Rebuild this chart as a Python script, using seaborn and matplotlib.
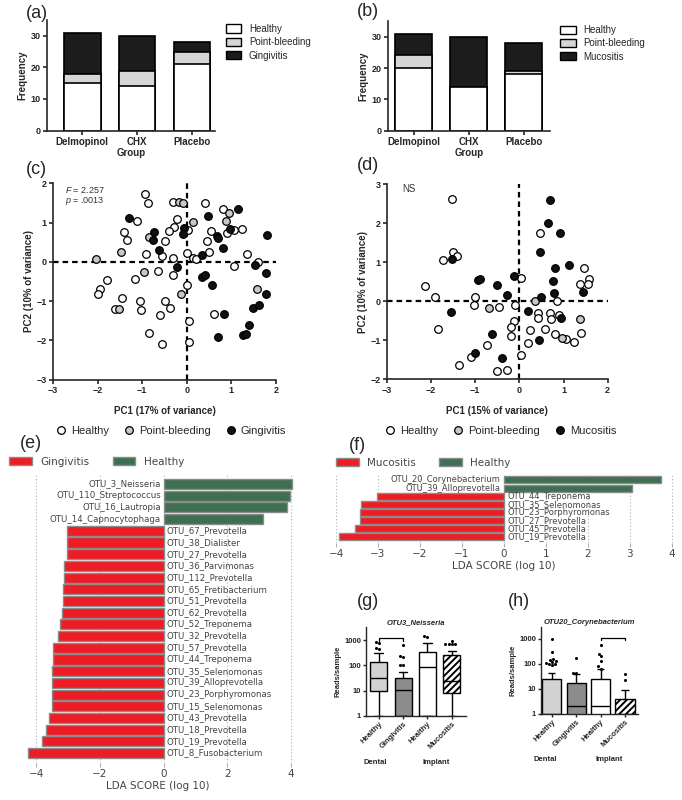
import matplotlib
matplotlib.use("Agg")
import matplotlib.pyplot as plt
import matplotlib.transforms as mtransforms
from matplotlib.patches import Patch
from matplotlib.lines import Line2D
import numpy as np
import pandas as pd
import seaborn as sns

sns.set_style("ticks")
plt.rcParams["font.family"] = ["Liberation Sans", "DejaVu Sans"]
plt.rcParams["mathtext.fontset"] = "custom"
plt.rcParams["mathtext.it"] = "Liberation Sans:italic"
plt.rcParams["mathtext.rm"] = "Liberation Sans"
plt.rcParams["hatch.linewidth"] = 1.4

# ---- (a) / (b) stacked frequencies ----
groups = ["Delmopinol", "CHX", "Placebo"]
a_healthy = [15, 14, 21]
a_bleeding = [3, 5, 4]
a_gingivitis = [13, 11, 3]
b_healthy = [20, 14, 18]
b_bleeding = [4, 0, 1]
b_mucositis = [7, 16, 9]

# ---- (c) PCA dental ----
c_healthy_x = [-0.94, -0.86, -0.32, 0.41, 0.81, -0.21, -1.11, -1.41, -1.34, -0.28, -0.39, 0.02,
               0.55, 0.90, 1.05, 1.24, -0.49, 0.45, 0.50, -0.92, -0.56, 0.01, -0.31, 0.13, 0.21,
               1.35, 1.05, 1.59, -0.64, -0.32, -1.16, -1.78, -1.95, -1.98, -1.46, -1.05, -1.03,
               -0.49, -0.37, -1.61, -0.60, 0.01, 0.06, 0.06, -0.84, -0.55, 0.62]
c_healthy_y = [1.74, 1.51, 1.53, 1.49, 1.34, 1.10, 1.03, 0.76, 0.56, 0.89, 0.79, 0.81,
               0.79, 0.74, 0.82, 0.83, 0.52, 0.54, 0.26, 0.21, 0.14, 0.23, 0.10, 0.10, 0.06,
               0.20, -0.10, 0.00, -0.23, -0.33, -0.43, -0.47, -0.70, -0.81, -0.91, -1.00, -1.23,
               -1.01, -1.17, -1.19, -1.36, -0.58, -1.52, -2.05, -1.81, -2.09, -1.34]
c_bleed_x = [-2.04, -1.47, -0.95, -0.84, -0.17, -0.09, 0.13, 0.94, 0.88, -0.13, -1.52, 1.57]
c_bleed_y = [0.06, 0.25, -0.26, 0.64, 1.52, 1.49, 1.02, 1.25, 1.05, -0.83, -1.19, -0.69]
c_dis_x = [-1.30, -0.73, -0.76, -0.62, -0.07, -0.09, -0.22, 0.47, 1.14, 0.67, 0.71, 0.96, 0.82,
           0.34, 0.34, 0.40, 0.56, 1.80, 1.52, 1.78, 1.78, 1.48, 1.63, 1.39, 1.27, 1.32, 0.84, 0.71]
c_dis_y = [1.11, 0.76, 0.56, 0.30, 0.85, 0.70, -0.12, 1.17, 1.35, 0.66, 0.60, 0.84, 0.35,
           0.17, -0.38, -0.33, -0.58, 0.69, -0.07, -0.29, -0.81, -1.18, -1.11, -1.62, -1.86, -1.83,
           -1.33, -1.91]

# ---- (d) PCA implant ----
d_healthy_x = [-1.52, -1.50, -1.42, -1.74, -2.14, -1.91, -1.00, -1.03, -1.84, -0.46, -0.10, 0.03,
               -0.12, -0.20, -0.19, -0.74, -1.09, -1.37, -0.51, -0.29, 0.03, 0.20, 0.23, 0.41,
               0.41, 0.69, 0.72, 0.90, 0.86, 0.57, 0.80, 1.05, 1.24, 1.40, 0.47, 1.47, 1.37,
               1.58, 1.55]
d_healthy_y = [2.63, 1.26, 1.15, 1.07, 0.38, 0.12, 0.12, -0.09, -0.72, -0.15, -0.09, 0.59,
               -0.50, -0.65, -0.88, -1.12, -1.44, -1.63, -1.79, -1.76, -1.37, -1.07, -0.74, -0.29,
               -0.42, -0.29, -0.45, -0.34, 0.01, -0.70, -0.85, -0.96, -1.05, -0.81, 1.74, 0.85, 0.44,
               0.56, 0.44]
d_bleed_x = [-0.69, 0.35, 0.97, 1.38]
d_bleed_y = [-0.16, 0.00, -0.94, -0.45]
d_dis_x = [0.69, 0.65, 0.91, 0.47, 0.80, 1.13, 0.77, 0.78, 1.44, 0.50, 0.20, 0.95, 0.45, -0.12,
           -0.29, -0.50, -0.93, -0.89, -1.52, -1.56, -0.63, -1.01, -0.40]
d_dis_y = [2.60, 2.00, 1.74, 1.27, 0.86, 0.93, 0.53, 0.20, 0.25, 0.10, -0.25, -0.44, -0.99, 0.66,
           0.15, 0.42, 0.55, 0.56, 1.09, -0.28, -0.84, -1.33, -1.46]

# ---- (e) LEfSe dental ----
e_names = ["OTU_3_Neisseria", "OTU_110_Streptococcus", "OTU_16_Lautropia", "OTU_14_Capnocytophaga",
           "OTU_67_Prevotella", "OTU_38_Dialister", "OTU_27_Prevotella", "OTU_36_Parvimonas",
           "OTU_112_Prevotella", "OTU_65_Fretibacterium", "OTU_51_Prevotella", "OTU_62_Prevotella",
           "OTU_52_Treponema", "OTU_32_Prevotella", "OTU_57_Prevotella", "OTU_44_Treponema",
           "OTU_35_Selenomonas", "OTU_39_Alloprevotella", "OTU_23_Porphyromonas",
           "OTU_15_Selenomonas", "OTU_43_Prevotella", "OTU_18_Prevotella", "OTU_19_Prevotella",
           "OTU_8_Fusobacterium"]
e_scores = [4.04, 3.98, 3.87, 3.14, -3.02, -3.02, -3.02, -3.12, -3.14, -3.16, -3.17, -3.19,
            -3.24, -3.33, -3.48, -3.48, -3.50, -3.51, -3.51, -3.51, -3.60, -3.71, -3.81, -4.25]

# ---- (f) LEfSe implant ----
f_names = ["OTU_20_Corynebacterium", "OTU_39_Alloprevotella", "OTU_44_Treponema",
           "OTU_35_Selenomonas", "OTU_23_Porphyromonas", "OTU_27_Prevotella",
           "OTU_45_Prevotella", "OTU_19_Prevotella"]
f_scores = [3.75, 3.05, -3.03, -3.41, -3.42, -3.44, -3.54, -3.94]

# ---- (g) OTU3 Neisseria box plot ----
g_cats = ["Healthy", "Gingivitis", "Healthy", "Mucositis"]
g_med = [33, 11, 83, 25]
g_q1 = [10, 1, 1, 8.3]
g_q3 = [140, 33, 350, 255]
g_lo = [1, 1, 1, 1]
g_hi = [316, 55, 790, 380]
g_fliers = [[820, 780, 450, 500], [630, 230, 210, 100, 100], [1300, 1400], [950, 700, 700, 700, 720]]

# ---- (h) OTU20 Corynebacterium bar plot ----
h_cats = ["Healthy", "Gingivitis", "Healthy", "Mucositis"]
h_mean = [24, 18, 24, 4.1]
h_upper = [42, 40, 61, 9]
h_median = [1, 2, 2, 1]
h_points = [[1000, 300, 150, 130, 110, 100, 160, 90, 120, 100],
            [170, 45, 45],
            [600, 260, 200, 130, 80, 65],
            [38, 22]]

W, H = 682, 800
fig = plt.figure(figsize=(W / 100, H / 100), dpi=100)


def px_axes(l, t, r, b):
    return fig.add_axes([l / W, 1 - b / H, (r - l) / W, (b - t) / H])


def panel_label(x, y, s):
    fig.text(x / W, 1 - y / H, s, fontsize=13, ha="left", va="center",
             family=["Liberation Sans", "DejaVu Sans"])


def prism_axes(ax):
    sns.despine(ax=ax)
    for sp in ["left", "bottom"]:
        ax.spines[sp].set_linewidth(1.2)
    ax.tick_params(width=1.2, length=3, labelsize=6.5, pad=1.5)
    for t in ax.get_xticklabels() + ax.get_yticklabels():
        t.set_fontweight("bold")


def stacked(ax, h, p, d, dlabel):
    df = pd.DataFrame({"Group": groups, "h": h, "p": p, "d": d})
    df["hp"] = df["h"] + df["p"]
    df["hpd"] = df["hp"] + df["d"]
    for col, color in [("hpd", "#1c1c1c"), ("hp", "#d6d6d6"), ("h", "white")]:
        sns.barplot(data=df, x="Group", y=col, color=color, edgecolor="black", linewidth=1.2,
                    width=0.67, saturation=1, errorbar=None, ax=ax)
    ax.set_ylim(0, 35)
    ax.set_yticks([0, 10, 20, 30])
    ax.set_ylabel("Frequency", fontsize=7, fontweight="bold", labelpad=2)
    ax.set_xlabel("Group", fontsize=7, fontweight="bold", labelpad=1)
    prism_axes(ax)
    ax.tick_params(axis="x", labelsize=7)
    handles = [Patch(facecolor="white", edgecolor="black", lw=1),
               Patch(facecolor="#d6d6d6", edgecolor="black", lw=1),
               Patch(facecolor="#1c1c1c", edgecolor="black", lw=1)]
    ax.legend(handles, ["Healthy", "Point-bleeding", dlabel], loc="upper left",
              bbox_to_anchor=(1.04, 1.0), frameon=False, fontsize=7, handlelength=1.6,
              handleheight=0.9, labelspacing=0.35, borderaxespad=0)


ax_a = px_axes(47, 20, 215, 130.5)
stacked(ax_a, a_healthy, a_bleeding, a_gingivitis, "Gingivitis")
ax_a.set_xlim(-0.64, 2.42)

ax_b = px_axes(388, 21, 550, 130.7)
stacked(ax_b, b_healthy, b_bleeding, b_mucositis, "Mucositis")
ax_b.set_xlim(-0.47, 2.48)


def pca(ax, hx, hy, bx, by, dx, dy, ylim, xlabel):
    for xs, ys, fc in [(hx, hy, "white"), (bx, by, "#c8c8c8"), (dx, dy, "#111111")]:
        sns.scatterplot(x=xs, y=ys, color=fc, edgecolor="black", linewidth=0.9, s=30, ax=ax,
                        zorder=3)
    ax.axvline(0, color="black", lw=1.6, ls=(0, (2.5, 1.8)), zorder=1)
    ax.axhline(0, color="black", lw=1.6, ls=(0, (2.5, 1.8)), zorder=1)
    ax.set_xlim(-3, 2)
    ax.set_ylim(*ylim)
    ax.set_xticks(range(-3, 3))
    ax.set_yticks(range(ylim[0], ylim[1] + 1))
    ax.set_xlabel(xlabel, fontsize=7, fontweight="bold", labelpad=8)
    ax.set_ylabel("PC2 (10% of variance)", fontsize=7, fontweight="bold", labelpad=2)
    prism_axes(ax)


ax_c = px_axes(53, 183.3, 276, 379.6)
pca(ax_c, c_healthy_x, c_healthy_y, c_bleed_x, c_bleed_y, c_dis_x, c_dis_y, (-3, 2),
    "PC1 (17% of variance)")
ax_c.text(-2.72, 1.84, "$F$ = 2.257", fontsize=6.5, color="#333333", va="center")
ax_c.text(-2.72, 1.54, "$p$ = .0013", fontsize=6.5, color="#333333", va="center")

ax_d = px_axes(387, 184.3, 607.7, 379.3)
pca(ax_d, d_healthy_x, d_healthy_y, d_bleed_x, d_bleed_y, d_dis_x, d_dis_y, (-2, 3),
    "PC1 (15% of variance)")
ax_d.text(-2.65, 2.87, "NS", fontsize=7, color="#333333", va="center")


def pca_legend(cx, dlabel):
    hs = [Line2D([], [], marker="o", ls="", mfc=fc, mec="black", mew=0.9, ms=5.5)
          for fc in ["white", "#c8c8c8", "#111111"]]
    fig.legend(hs, ["Healthy", "Point-bleeding", dlabel], loc="center",
               bbox_to_anchor=(cx / W, 1 - 431 / H), ncol=3, frameon=False, fontsize=8,
               handletextpad=0.3, columnspacing=1.2, handlelength=1.2)


pca_legend(170, "Gingivitis")
pca_legend(500, "Mucositis")

RED = "#ee1c25"
GREEN = "#3e6f52"
LEF_FONT = ["DejaVu Sans"]


def lefse(ax, names, scores, fs, labels_fs, xlim, ylim, xticks):
    cls = ["Healthy" if s > 0 else "Disease" for s in scores]
    df = pd.DataFrame({"name": names, "score": scores, "cls": cls})
    sns.barplot(data=df, y="name", x="score", hue="cls", palette={"Healthy": GREEN, "Disease": RED},
                dodge=False, orient="h", width=0.86, edgecolor="#8c8c8c", linewidth=1,
                saturation=1, legend=False, ax=ax, zorder=3)
    for i, (n, s) in enumerate(zip(names, scores)):
        if s > 0:
            ax.text(-0.08, i, n, ha="right", va="center", fontsize=labels_fs, color="#444444",
                    family=LEF_FONT)
        else:
            ax.text(0.08, i, n, ha="left", va="center", fontsize=labels_fs, color="#444444",
                    family=LEF_FONT)
    ax.set_xlim(*xlim)
    ax.set_ylim(*ylim)
    ax.set_xticks(xticks)
    ax.set_yticks([])
    ax.set_ylabel("")
    ax.set_xlabel("LDA SCORE (log 10)", fontsize=fs, color="#444444", family=LEF_FONT, labelpad=2)
    for sp in ax.spines.values():
        sp.set_visible(False)
    ax.grid(axis="x", ls=(0, (1, 2)), color="#b0b0b0", lw=0.8, zorder=0)
    ax.tick_params(axis="x", length=3, color="#b0b0b0", labelsize=fs, labelcolor="#444444",
                   pad=1)
    for t in ax.get_xticklabels():
        t.set_family(LEF_FONT)


ax_e = px_axes(22, 473, 294, 763)
lefse(ax_e, e_names, e_scores, 7.5, 6.2, (-4.45, 4.1), (23.85, -0.94), [-4, -2, 0, 2, 4])
ax_e.legend([Patch(facecolor=RED, edgecolor="#8c8c8c"), Patch(facecolor=GREEN, edgecolor="#8c8c8c")],
            ["Gingivitis", "Healthy"], loc="lower left", bbox_to_anchor=(-0.07, 1.0), ncol=2,
            frameon=False, prop={"family": LEF_FONT, "size": 7.5}, labelcolor="#444444",
            handlelength=2.2, handleheight=0.8, columnspacing=2.2, borderaxespad=0.2)

ax_f = px_axes(334, 473, 673.8, 543)
lefse(ax_f, f_names, f_scores, 7.5, 6.0, (-4.05, 4.05), (7.78, -0.86), list(range(-4, 5)))
ax_f.legend([Patch(facecolor=RED, edgecolor="#8c8c8c"), Patch(facecolor=GREEN, edgecolor="#8c8c8c")],
            ["Mucositis", "Healthy"], loc="lower left", bbox_to_anchor=(-0.01, 1.0), ncol=2,
            frameon=False, prop={"family": LEF_FONT, "size": 7.5}, labelcolor="#444444",
            handlelength=2.2, handleheight=0.8, columnspacing=2.2, borderaxespad=0.1)


def small_axes(ax, cats, title, xlim, ylim, dental_x, implant_x):
    ax.set_xlim(*xlim)
    ax.set_ylim(*ylim)
    ax.set_xticks(range(4))
    ax.set_xticklabels(cats, rotation=45, ha="right", rotation_mode="anchor")
    ax.set_yticks([1, 10, 100, 1000])
    ax.set_yticklabels(["1", "10", "100", "1000"])
    ax.minorticks_off()
    ax.set_xlabel("")
    ax.set_ylabel("Reads/sample", fontsize=5.5, fontweight="bold", labelpad=2)
    ax.set_title(title, fontsize=5.5, fontweight="bold", style="italic", pad=2)
    sns.despine(ax=ax)
    for sp in ["left", "bottom"]:
        ax.spines[sp].set_linewidth(1.0)
    ax.tick_params(width=1.0, length=2.5, labelsize=5.5, pad=1)
    for t in ax.get_xticklabels() + ax.get_yticklabels():
        t.set_fontweight("bold")
    tr = mtransforms.blended_transform_factory(ax.transData, ax.transAxes)
    ax.text(dental_x, -0.52, "Dental", transform=tr, fontsize=5.5, fontweight="bold",
            ha="center", va="center")
    ax.text(implant_x, -0.52, "Implant", transform=tr, fontsize=5.5, fontweight="bold",
            ha="center", va="center")


def bracket(ax, x0, x1, y):
    ax.plot([x0, x0, x1, x1], [y * 0.82, y, y, y * 0.82], color="black", lw=0.9, clip_on=False)


fills = ["#d3d3d3", "#8c8c8c", "white", "white"]
hatches = [None, None, None, "/////"]

# (g)
ax_g = px_axes(366, 626.7, 466, 716)
ax_g.set_yscale("log")
stats = [dict(med=m, q1=a, q3=b, whislo=lo, whishi=hi, fliers=[])
         for m, a, b, lo, hi in zip(g_med, g_q1, g_q3, g_lo, g_hi)]
bp = ax_g.bxp(stats, positions=range(4), widths=0.7, patch_artist=True, showfliers=False,
              boxprops=dict(lw=1.0), medianprops=dict(color="black", lw=1.0),
              whiskerprops=dict(lw=1.0), capprops=dict(lw=1.0))
for box, fc, hp in zip(bp["boxes"], fills, hatches):
    box.set_facecolor(fc)
    box.set_edgecolor("black")
    if hp:
        box.set_hatch(hp)
g_keys = ["D_H", "D_G", "I_H", "I_M"]
fl = pd.DataFrame({"k": [k for k, v in zip(g_keys, g_fliers) for _ in v],
                   "v": [x for v in g_fliers for x in v]})
sns.swarmplot(data=fl, x="k", y="v", order=g_keys, color="black", size=2.2, ax=ax_g, zorder=4)
small_axes(ax_g, g_cats, "OTU3_Neisseria", (-0.52, 3.58), (1, 3400), -0.13, 2.36)
bracket(ax_g, 0, 1, 1170)

# (h)
ax_h = px_axes(541, 626.7, 637.7, 714)
ax_h.set_yscale("log")
h_keys = ["D_H", "D_G", "I_H", "I_M"]
hd = pd.DataFrame({"k": h_keys, "m": h_mean})
sns.barplot(data=hd, x="k", y="m", order=h_keys, width=0.78, edgecolor="black", linewidth=1.0,
            saturation=1, errorbar=None, ax=ax_h, zorder=2, color="white")
for bar, fc, hp in zip(ax_h.patches, fills, hatches):
    bar.set_facecolor(fc)
    if hp:
        bar.set_hatch(hp)
ax_h.vlines(range(4), h_mean, h_upper, color="black", lw=1.0, zorder=3)
ax_h.hlines(h_upper, np.arange(4) - 0.15, np.arange(4) + 0.15, color="black", lw=1.0, zorder=3)
ax_h.hlines(h_median, np.arange(4) - 0.39, np.arange(4) + 0.39, color="black", lw=1.0, zorder=3)
hp_df = pd.DataFrame({"k": [k for k, v in zip(h_keys, h_points) for _ in v],
                      "v": [x for v in h_points for x in v]})
sns.swarmplot(data=hp_df, x="k", y="v", order=h_keys, color="black", size=2.2, ax=ax_h, zorder=4)
small_axes(ax_h, h_cats, "OTU20_Corynebacterium", (-0.44, 3.52), (1, 3100), -0.27, 2.35)
bracket(ax_h, 2, 3, 1070)

panel_label(26, 13, "(a)")
panel_label(357, 12, "(b)")
panel_label(26, 170, "(c)")
panel_label(357, 166, "(d)")
panel_label(20, 443, "(e)")
panel_label(349, 445, "(f)")
panel_label(357, 601, "(g)")
panel_label(508, 601, "(h)")

fig.savefig("out.png", dpi=100)
